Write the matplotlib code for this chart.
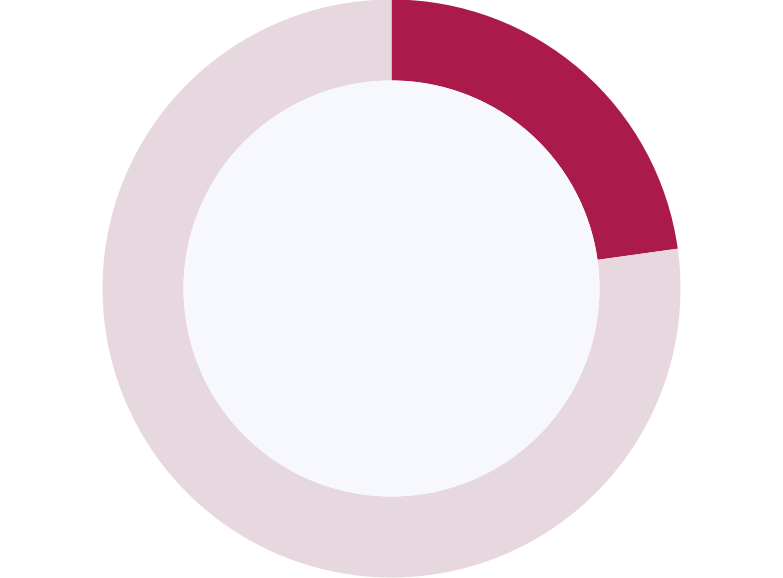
import matplotlib
matplotlib.use('Agg')
import matplotlib.pyplot as plt
from matplotlib.patches import Circle

labels = ['Share', 'Rest']
values = [22.8, 77.2]
colors = ['#AA1A4B', '#E7D8DF']

fig = plt.figure(figsize=(7.83, 5.78), dpi=100)
ax = fig.add_axes([0, 0, 1, 1])

cx, cy = 391.5, 578 - 288.5
r_out, r_in = 289, 208

ax.pie(values, colors=colors, startangle=90, counterclock=False,
       center=(cx, cy), radius=r_out,
       wedgeprops=dict(width=r_out - r_in, linewidth=0))
ax.add_patch(Circle((cx, cy), r_in, facecolor='#F7F8FD', edgecolor='none'))

ax.set_xlim(0, 783)
ax.set_ylim(0, 578)
ax.set_aspect('equal')
ax.axis('off')

fig.savefig('out.png', dpi=100)
